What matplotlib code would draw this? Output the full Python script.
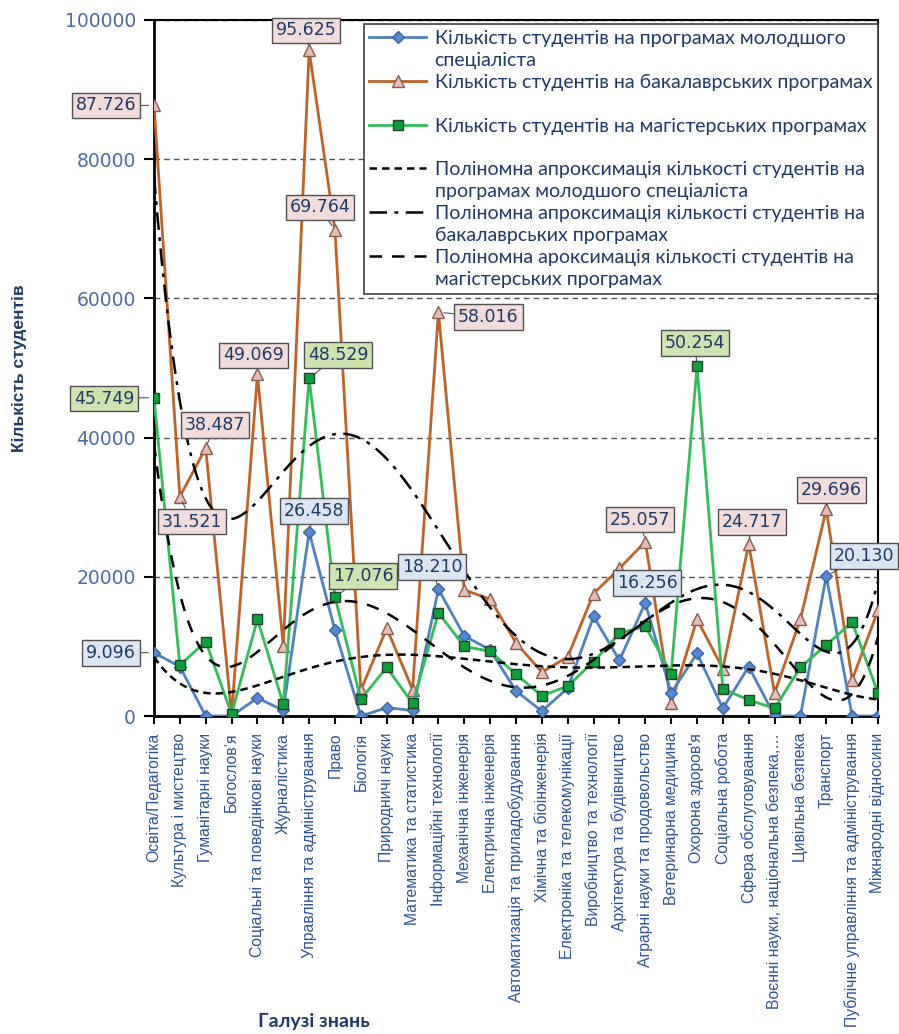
import numpy as np
import matplotlib
matplotlib.use("Agg")
import matplotlib.pyplot as plt
from matplotlib.lines import Line2D

# --- data -------------------------------------------------------------
categories = [
    "Освіта/Педагогіка", "Культура і мистецтво", "Гуманітарні науки", "Богослов’я",
    "Соціальні та поведінкові науки", "Журналістика", "Управління та адміністрування",
    "Право", "Біологія", "Природничі науки", "Математика та статистика",
    "Інформаційні технології", "Механічна інженерія", "Електрична інженерія",
    "Автоматизація та приладобудування", "Хімічна та біоінженерія",
    "Електроніка та телекомунікації", "Виробництво та технології",
    "Архітектура та будівництво", "Аграрні науки та продовольство",
    "Ветеринарна медицина", "Охорона здоров'я", "Соціальна робота",
    "Сфера обслуговування", "Воєнні науки, національна безпека,…",
    "Цивільна безпека", "Транспорт", "Публічне управління та адміністрування",
    "Міжнародні відносини",
]

junior = [9096, 7100, 0, 0, 2600, 800, 26458, 12300, 0, 1200, 800, 18210, 11500,
          9500, 3600, 700, 4000, 14300, 8000, 16256, 3300, 9000, 1100, 7100, 0, 0,
          20130, 0, 0]
bachelor = [87726, 31521, 38487, 200, 49069, 10000, 95625, 69764, 3700, 12600, 3800,
            58016, 18100, 16800, 10500, 6300, 8500, 17600, 21200, 25057, 1800, 13900,
            6800, 24717, 3300, 13900, 29696, 5200, 15200]
master = [45749, 7300, 10700, 300, 13900, 1700, 48529, 17076, 2400, 7000, 1800, 14800,
          10000, 9300, 6000, 2900, 4300, 7800, 11900, 12900, 6100, 50254, 3900, 2300,
          1100, 7000, 10200, 13500, 3300]

legend_rows = [
    "Кількість студентів на програмах молодшого", "спеціаліста",
    "Кількість студентів на бакалаврських програмах", " ",
    "Кількість студентів на магістерських програмах", " ",
    "Поліномна апроксимація кількості студентів на", "програмах молодшого спеціаліста",
    "Поліномна апроксимація кількості студентів на", "бакалаврських програмах",
    "Поліномна ароксимація кількості студентів на", "магістерських програмах",
]

# which points get a value box: (series, index, dx, dy in pixels)
labelled = [
    ("b", 0, -48, 0), ("b", 6, -3, 20), ("b", 7, -15, 23), ("b", 4, -4, 19),
    ("m", 6, 29, 23), ("m", 0, -50, -1), ("b", 2, 9, 23), ("b", 1, 12, -25),
    ("j", 6, 5, 21), ("m", 7, 28, 21), ("j", 11, -6, 22), ("b", 11, 50, -5),
    ("b", 19, -5, 22), ("j", 19, 2, 20), ("m", 21, -2, 23), ("b", 23, 3, 22),
    ("b", 26, 5, 19), ("j", 26, 38, 20), ("j", 0, -43, 0),
]

# --- figure -----------------------------------------------------------
fig = plt.figure(figsize=(8.99, 10.34), dpi=100)
ax = fig.add_axes([154 / 899, 1 - 716 / 1034, 724 / 899, 696 / 1034])

x = np.arange(len(categories))
navy = "#1F3864"

lj, = ax.plot(x, junior, color="#4F81BD", lw=2, marker="D", ms=6.5,
              mfc="#5588D0", mec="#3B64A4", zorder=4)
lb, = ax.plot(x, bachelor, color="#BF6226", lw=2, marker="^", ms=8.5,
              mfc="#E8BCB8", mec="#8A5A4A", zorder=3)
lm, = ax.plot(x, master, color="#2FBE58", lw=2, marker="s", ms=7,
              mfc="#0BA03C", mec="#24402A", zorder=5)

# polynomial trend lines (6th order, like Excel)
xs = np.linspace(0, len(categories) - 1, 400)
tj, = ax.plot(xs, np.polyval(np.polyfit(x, junior, 6), xs), color="black",
              lw=1.8, dashes=(3, 2), zorder=6)
tb, = ax.plot(xs, np.polyval(np.polyfit(x, bachelor, 6), xs), color="black",
              lw=1.8, dashes=(7, 3, 1.5, 3), zorder=6)
tm, = ax.plot(xs, np.polyval(np.polyfit(x, master, 6), xs), color="black",
              lw=1.8, dashes=(5, 4), zorder=6)

series = {"j": (junior, "#DCE6F2"), "b": (bachelor, "#F2DCDB"), "m": (master, "#CFE3B0")}
for key, idx, dx, dy in labelled:
    vals, fc = series[key]
    v = vals[idx]
    ax.annotate(f"{v:,}".replace(",", "."), xy=(idx, v), xytext=(dx, dy),
                textcoords="offset pixels", ha="center", va="center",
                fontsize=12.5, color=navy, zorder=10,
                bbox=dict(boxstyle="square,pad=0.22", fc=fc, ec="#505050", lw=1),
                arrowprops=dict(arrowstyle="-", color="#505050", lw=0.8,
                                shrinkA=0, shrinkB=4))

ax.set_xlim(0, len(categories) - 1)
ax.set_ylim(0, 100000)
ax.set_yticks(np.arange(0, 100001, 20000))
ax.set_yticklabels([str(v) for v in range(0, 100001, 20000)])
ax.tick_params(axis="y", direction="out", length=7, width=1.5, labelsize=13.5,
               labelcolor="#4A6BA5", pad=6)
ax.set_xticks(x)
ax.set_xticklabels(categories, rotation=90, ha="center", va="top",
                   family="Liberation Sans", fontsize=11.3, color="#2F528F")
ax.tick_params(axis="x", direction="out", length=6, width=1.5, pad=6)

ax.grid(axis="y", color="#505050", lw=1, dashes=(4, 3))
for s in ax.spines.values():
    s.set_color("black")
ax.spines["left"].set_linewidth(2)
ax.spines["bottom"].set_linewidth(2)
ax.spines["top"].set_linewidth(1.5)
ax.spines["right"].set_linewidth(1.5)

ax.set_ylabel("Кількість студентів", family="Liberation Sans",
              fontsize=12.5, fontweight="bold", color=navy)
ax.yaxis.set_label_coords(-0.175, 0.5)
fig.text(314 / 899, 1 - 1022 / 1034, "Галузі знань", ha="center", va="center",
         fontsize=14, fontweight="bold", color=navy, family="Lato")

blank = Line2D([], [], color="none")
handles = [lj, blank, lb, blank, lm, blank, tj, blank, tb, blank, tm, blank]
leg = ax.legend(handles, legend_rows, loc="upper right", bbox_to_anchor=(1.0, 0.994),
                borderaxespad=0, frameon=True, fancybox=False, framealpha=1,
                edgecolor="#404040", prop={"family": "Lato", "size": 14},
                labelcolor=navy, handlelength=2.9, handletextpad=0.45,
                labelspacing=0.25, borderpad=0.3)
leg.get_frame().set_linewidth(1.2)
leg.set_zorder(20)

fig.savefig("out.png", dpi=100)
